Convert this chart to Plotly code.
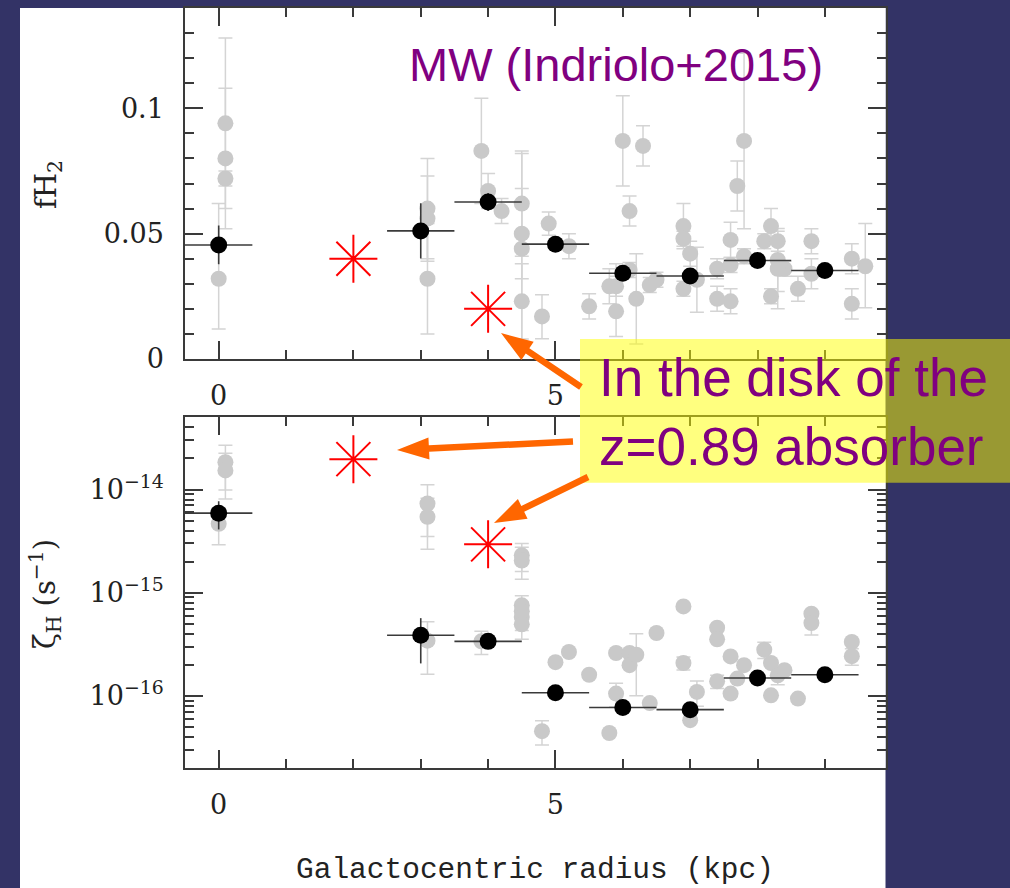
import plotly.graph_objects as go

W, H = 1010, 888

# ---------------- data ----------------
# top panel: molecular fraction fH2 vs galactocentric radius (kpc)
gray_fh2_x = [0.0, 0.1, 0.1, 0.1, 3.1, 3.1, 3.1, 3.9, 4.0, 4.2, 4.5, 4.5, 4.5, 4.5,
              4.8, 4.9, 5.2, 5.5, 5.8, 5.9, 5.9, 6.0, 6.1, 6.3, 6.2, 6.1, 6.4, 6.5,
              6.9, 6.9, 7.0, 6.9, 7.1, 7.4, 7.4, 7.6, 7.6, 7.6, 7.8, 7.7, 7.8,
              8.1, 8.2, 8.3, 8.3, 8.4, 8.2, 8.3, 8.6, 8.8, 8.8, 9.4, 9.4, 9.6]
gray_fh2_y = [0.032, 0.094, 0.080, 0.072, 0.060, 0.056, 0.032, 0.083, 0.067, 0.059,
              0.062, 0.050, 0.044, 0.023, 0.017, 0.054, 0.045, 0.021, 0.029, 0.029,
              0.019, 0.087, 0.059, 0.085, 0.024, 0.0355, 0.0295, 0.0316, 0.053, 0.048,
              0.042, 0.028, 0.0316, 0.036, 0.024, 0.023, 0.0475, 0.0375, 0.041, 0.069,
              0.087, 0.047, 0.053, 0.047, 0.0395, 0.036, 0.025, 0.036, 0.028, 0.047,
              0.034, 0.040, 0.022, 0.037]
gray_fh2_ep = [0.030, 0.034, 0.028, 0.003, 0.020, 0.017, 0.022, 0.021, 0.007, 0.005,
               0.021, 0.018, 0.038, 0.015, 0.0086, 0.0046, 0.005, 0.005, 0.007, 0.004,
               0.019, 0.018, 0.006, 0.008, 0.018, 0.003, 0.003, 0.003, 0.009, 0.003,
               0.005, 0.003, 0.013, 0.004, 0.005, 0.005, 0.007, 0.003, 0.003, 0.010,
               0.035, 0.003, 0.007, 0.004, 0.0126, 0.003, 0.003, 0.004, 0.005, 0.005,
               0.006, 0.006, 0.006, 0.017]
gray_fh2_em = [0.020, 0.034, 0.028, 0.003, 0.020, 0.017, 0.022, 0.021, 0.007, 0.005,
               0.021, 0.018, 0.038, 0.015, 0.0089, 0.0046, 0.005, 0.005, 0.007, 0.004,
               0.010, 0.018, 0.006, 0.008, 0.018, 0.003, 0.003, 0.003, 0.009, 0.003,
               0.005, 0.003, 0.013, 0.004, 0.005, 0.005, 0.007, 0.003, 0.003, 0.010,
               0.035, 0.003, 0.007, 0.004, 0.0126, 0.003, 0.003, 0.016, 0.005, 0.005,
               0.006, 0.006, 0.006, 0.0166]

# bottom panel: cosmic-ray ionisation rate zeta_H (s^-1)
gray_zeta_x = [0.1, 0.1, 0.0, 3.1, 3.1, 3.1, 3.9, 4.5, 4.5, 4.5, 4.5, 4.5, 4.5, 4.8,
               5.0, 5.2, 5.5, 5.8, 5.9, 5.9, 6.1, 6.1, 6.2, 6.4, 6.5, 6.9, 6.9, 7.0,
               7.1, 7.4, 7.4, 7.4, 7.6, 7.6, 7.7, 7.8, 8.1, 8.2, 8.2, 8.3, 8.4, 8.6,
               8.8, 8.8, 9.4, 9.4]
gray_zeta_y = [1.84e-14, 1.53e-14, 4.65e-15, 7.31e-15, 5.43e-15, 3.42e-16, 3.37e-16,
               2.30e-15, 2.05e-15, 7.53e-16, 6.60e-16, 5.80e-16, 4.93e-16, 4.54e-17,
               2.12e-16, 2.66e-16, 1.60e-16, 4.36e-17, 2.60e-16, 1.05e-16, 2.60e-16,
               1.98e-16, 2.50e-16, 8.50e-17, 4.06e-16, 7.36e-16, 2.08e-16, 5.80e-17,
               1.09e-16, 4.57e-16, 3.53e-16, 1.38e-16, 2.41e-16, 1.05e-16, 1.47e-16,
               1.98e-16, 2.80e-16, 2.08e-16, 1.01e-16, 1.58e-16, 1.77e-16, 9.40e-17,
               6.26e-16, 5.08e-16, 3.33e-16, 2.42e-16]
gray_zeta_err = [0.85e-14, 0.72e-14, 1.74e-15, 3.8e-15, 2.8e-15, 1.8e-16, 0.85e-16,
                 0.7e-15, 0.7e-15, 1.8e-16, 1.5e-16, 1.5e-16, 1.4e-16, 1.2e-17,
                 0, 0, 0, 0, 0, 0.27e-16, 0, 0, 1.5e-16, 0, 0, 0, 0.3e-16, 0,
                 0.3e-16, 0, 0, 0.2e-16, 0, 0, 0, 0, 0.5e-16, 0, 0, 0.3e-16, 0, 0,
                 0, 1.2e-16, 0, 0.44e-16]

# binned averages (black) and the z=0.89 absorber (red)
bin_x = [0, 3, 4, 5, 6, 7, 8, 9]
bin_xerr = [0.5, 0.5, 0.5, 0.5, 0.5, 0.5, 0.5, 0.5]
bin_fh2 = [0.0455, 0.0511, 0.0626, 0.0458, 0.0342, 0.0331, 0.0393, 0.0353]
bin_fh2_err = [0.0077, 0.011, 0.0036, 0.0, 0.0, 0.0, 0.0, 0.0]
bin_zeta = [5.9e-15, 3.86e-16, 3.37e-16, 1.07e-16, 7.7e-17, 7.34e-17, 1.49e-16, 1.6e-16]
bin_zeta_err = [1.8e-15, 1.8e-16, 0.2e-16, 0, 0, 0, 0, 0]
abs_x = [2, 4]
abs_fh2 = [0.040, 0.020]
abs_zeta = [1.97e-14, 2.94e-15]

x_ticks = [0, 5]
zeta_ticks = [1e-16, 1e-15, 1e-14]
zeta_ticktext = ["10<sup>−16</sup>", "10<sup>−15</sup>", "10<sup>−14</sup>"]

# ---------------- styling ----------------
GRAY = "#c9c9c9"
EGRAY = "#d4d4d4"
FRAME = "#3a3a3a"
PURPLE = "#800080"
ORANGE = "#ff6600"
TICKFONT = dict(family="DejaVu Serif", size=27, color="#222222")


def px(x):
    return x / W


def py(y):
    return 1 - y / H


fig = go.Figure()

# top panel
fig.add_trace(go.Scatter(
    x=gray_fh2_x, y=gray_fh2_y, mode="markers", xaxis="x", yaxis="y",
    marker=dict(size=16, color=GRAY),
    error_y=dict(type="data", array=gray_fh2_ep, arrayminus=gray_fh2_em,
                 color=EGRAY, thickness=1.5, width=7),
    showlegend=False, hoverinfo="skip"))
fig.add_trace(go.Scatter(
    x=bin_x, y=bin_fh2, mode="markers", xaxis="x", yaxis="y",
    marker=dict(size=17, color="black"),
    error_x=dict(type="data", array=bin_xerr, color=FRAME, thickness=1.6, width=0),
    error_y=dict(type="data", array=bin_fh2_err, color=FRAME, thickness=1.6, width=0),
    showlegend=False, hoverinfo="skip"))
fig.add_trace(go.Scatter(
    x=abs_x, y=abs_fh2, mode="markers", xaxis="x", yaxis="y",
    marker=dict(symbol="asterisk-open", size=40, color="red",
                line=dict(color="red", width=2)),
    showlegend=False, hoverinfo="skip"))

# bottom panel
fig.add_trace(go.Scatter(
    x=gray_zeta_x, y=gray_zeta_y, mode="markers", xaxis="x2", yaxis="y2",
    marker=dict(size=16, color=GRAY),
    error_y=dict(type="data", array=gray_zeta_err, color=EGRAY, thickness=1.5, width=7),
    showlegend=False, hoverinfo="skip"))
fig.add_trace(go.Scatter(
    x=bin_x, y=bin_zeta, mode="markers", xaxis="x2", yaxis="y2",
    marker=dict(size=17, color="black"),
    error_x=dict(type="data", array=bin_xerr, color=FRAME, thickness=1.6, width=0),
    error_y=dict(type="data", array=bin_zeta_err, color=FRAME, thickness=1.6, width=0),
    showlegend=False, hoverinfo="skip"))
fig.add_trace(go.Scatter(
    x=abs_x, y=abs_zeta, mode="markers", xaxis="x2", yaxis="y2",
    marker=dict(symbol="asterisk-open", size=40, color="red",
                line=dict(color="red", width=2)),
    showlegend=False, hoverinfo="skip"))

xdom = [px(185), px(885.5)]
common_x = dict(
    domain=xdom, range=[-0.5, 9.9], tickmode="array", tickvals=x_ticks,
    ticks="inside", ticklen=18, tickwidth=1.5, tickcolor=FRAME,
    minor=dict(ticks="inside", ticklen=9, tickwidth=1.5, tickcolor=FRAME, dtick=1,
               tick0=0, showgrid=False),
    showline=True, linecolor=FRAME, linewidth=1.5, mirror="allticks",
    showgrid=False, zeroline=False, tickfont=TICKFONT, ticklabelstandoff=12,
    automargin=False,
)
minor_log = [k * 10.0 ** e for e in (-17, -16, -15, -14) for k in range(2, 10)]

fig.update_layout(
    template="none",
    width=W, height=H, autosize=False, margin=dict(l=0, r=0, t=0, b=0, pad=0),
    paper_bgcolor="#333366", plot_bgcolor="white",
    xaxis=dict(anchor="y", **common_x),
    yaxis=dict(domain=[py(359), py(8)], range=[0, 0.14], anchor="x",
               tickmode="array", tickvals=[0, 0.05, 0.1], ticktext=["0", "0.05", "0.1"],
               ticks="inside", ticklen=18, tickwidth=1.5, tickcolor=FRAME,
               minor=dict(ticks="inside", ticklen=9, tickwidth=1.5, tickcolor=FRAME,
                          dtick=0.01, tick0=0, showgrid=False),
               showline=True, linecolor=FRAME, linewidth=1.5, mirror="allticks",
               showgrid=False, zeroline=False, tickfont=TICKFONT, ticklabelstandoff=14,
               automargin=False),
    xaxis2=dict(anchor="y2", **common_x),
    yaxis2=dict(domain=[py(768), py(417.3)], type="log", range=[-16.7, -13.3],
                anchor="x2", tickmode="array", tickvals=zeta_ticks, ticktext=zeta_ticktext,
                ticks="inside", ticklen=18, tickwidth=1.5, tickcolor=FRAME,
                minor=dict(ticks="inside", ticklen=9, tickwidth=1.5, tickcolor=FRAME,
                           tickmode="array", tickvals=minor_log, showgrid=False),
                showline=True, linecolor=FRAME, linewidth=1.5, mirror="allticks",
                showgrid=False, zeroline=False, tickfont=TICKFONT, ticklabelstandoff=14,
                automargin=False),
)

shapes = [
    # white page behind the figure
    dict(type="rect", xref="paper", yref="paper", x0=px(20), x1=px(885.5),
         y0=0, y1=py(8), fillcolor="white", line=dict(width=0), layer="below"),
    # semi-transparent yellow label box
    dict(type="rect", xref="paper", yref="paper", x0=px(580), x1=1.0,
         y0=py(482.7), y1=py(339), fillcolor="rgba(255,255,0,0.5)",
         line=dict(width=0), layer="above"),
]


def arrow_path(tail, tip, w=6.5, L=32, hw=11):
    import math
    tx, ty = tail
    qx, qy = tip
    d = math.hypot(qx - tx, qy - ty)
    ux, uy = (qx - tx) / d, (qy - ty) / d
    nx, ny = -uy, ux
    bx, by = qx - ux * L, qy - uy * L
    pts = [(tx + nx * w / 2, ty + ny * w / 2), (bx + nx * w / 2, by + ny * w / 2),
           (bx + nx * hw, by + ny * hw), (qx, qy), (bx - nx * hw, by - ny * hw),
           (bx - nx * w / 2, by - ny * w / 2), (tx - nx * w / 2, ty - ny * w / 2)]
    s = "M " + " L ".join(f"{px(a):.5f},{py(b):.5f}" for a, b in pts) + " Z"
    return dict(type="path", xref="paper", yref="paper", path=s,
                fillcolor=ORANGE, line=dict(width=0), layer="above")


shapes.append(arrow_path((581, 387), (501, 333)))
shapes.append(arrow_path((573, 441.5), (397, 450)))
shapes.append(arrow_path((588, 477), (494, 523)))

annotations = [
    dict(text="MW (Indriolo+2015)", xref="paper", yref="paper", x=px(616), y=py(64),
         xanchor="center", yanchor="middle", showarrow=False,
         font=dict(family="Liberation Sans", size=47, color=PURPLE)),
    dict(text="In the disk of the<br>z=0.89 absorber", xref="paper", yref="paper",
         x=px(597), y=py(412), xanchor="left", yanchor="middle", align="left",
         showarrow=False, font=dict(family="Liberation Sans", size=53, color=PURPLE)),
    dict(text="Galactocentric radius (kpc)", xref="paper", yref="paper",
         x=px(535), y=py(870), xanchor="center", yanchor="middle", showarrow=False,
         font=dict(family="Liberation Mono", size=29.5, color="#222222")),
    dict(text="fH<sub>2</sub>", xref="paper", yref="paper", x=px(48), y=py(185),
         xanchor="center", yanchor="middle", textangle=-90, showarrow=False,
         font=dict(family="DejaVu Serif", size=29, color="#222222")),
    dict(text="ζ<sub>H</sub> (s<sup>−1</sup>)", xref="paper", yref="paper",
         x=px(45), y=py(594), xanchor="center", yanchor="middle", textangle=-90,
         showarrow=False, font=dict(family="DejaVu Serif", size=29, color="#222222")),
]

fig.update_layout(shapes=shapes, annotations=annotations)
fig.write_html("out.html", config={"displayModeBar": False},
               post_script="document.body.style.margin='0';")
